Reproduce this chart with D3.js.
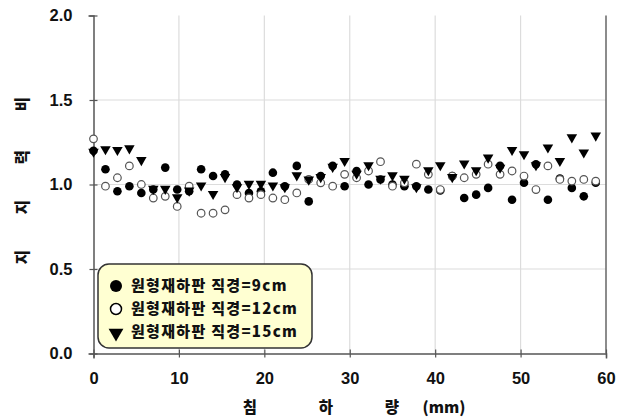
<!DOCTYPE html>
<html>
<head>
<meta charset="utf-8">
<script src="https://cdn.jsdelivr.net/npm/d3@7.9.0/dist/d3.min.js"></script>
<style>
  html, body { margin: 0; padding: 0; background: #fff; }
  svg { display: block; }
  text { font-family: "Liberation Sans", Arial, "Noto Sans CJK KR", sans-serif; font-weight: bold; fill: #111; }
  .kr { font-family: "Noto Sans CJK KR", sans-serif; font-weight: 900; }
</style>
</head>
<body>
<svg id="chart" width="624" height="418"></svg>
<script>
// ===== data =====
const settlement = [0, 1.4, 2.8, 4.2, 5.6, 7.0, 8.4, 9.8, 11.2, 12.6, 14.0, 15.4, 16.8, 18.2, 19.6,
  21.0, 22.4, 23.8, 25.2, 26.6, 28.0, 29.4, 30.8, 32.2, 33.6, 35.0, 36.4, 37.8, 39.2, 40.6,
  42.0, 43.4, 44.8, 46.2, 47.6, 49.0, 50.4, 51.8, 53.2, 54.6, 56.0, 57.4, 58.8];

const plate9 = [1.20, 1.09, 0.96, 0.99, 0.95, 0.97, 1.10, 0.97, 0.96, 1.09, 1.05, 1.06, 1.00, 0.95, 0.96,
  1.07, 0.99, 1.11, 0.90, 1.05, 1.11, 0.99, 1.08, 1.00, 1.03, 1.00, 0.99, 0.99, 0.97, 0.965,
  1.05, 0.92, 0.94, 0.98, 1.11, 0.91, 1.01, 1.12, 0.91, 1.035, 0.98, 0.93, 1.01];

const plate12 = [1.27, 0.99, 1.04, 1.11, 1.00, 0.92, 0.93, 0.87, 0.99, 0.83, 0.83, 0.85, 0.94, 0.92, 0.94,
  0.92, 0.91, 0.95, 1.03, 1.01, 0.99, 1.06, 1.04, 1.08, 1.135, 0.99, 1.01, 1.12, 1.06, 0.97,
  1.05, 1.04, 1.06, 1.12, 1.06, 1.08, 1.05, 0.97, 1.11, 1.03, 1.02, 1.03, 1.02];

const plate15 = [1.20, 1.215, 1.21, 1.22, 1.15, 0.98, 0.98, 0.93, 0.97, 1.00, 0.95, 1.05, 0.99, 1.01, 1.01,
  1.00, 0.99, 1.06, 1.035, 1.05, 1.11, 1.145, 1.07, 1.12, 1.04, 1.06, 1.04, 0.99, 1.09, 1.12,
  1.05, 1.13, 1.09, 1.165, 1.105, 1.21, 1.185, 1.12, 1.225, 1.145, 1.285, 1.195, 1.295];

const legendLabels = ["원형재하판 직경=9cm", "원형재하판 직경=12cm", "원형재하판 직경=15cm"];
const xTicks = [0, 10, 20, 30, 40, 50, 60];
const yTicks = [0.0, 0.5, 1.0, 1.5, 2.0];
const yTitleChars = ["지", "지", "력", "비"];
const xTitleParts = ["침", "하", "량", "(mm)"];

// ===== layout =====
const svg = d3.select("#chart");
const x = d3.scaleLinear().domain([0, 60]).range([93.5, 606]);
const y = d3.scaleLinear().domain([0, 2]).range([353.5, 15.5]);
const axisColor = "#555";

// grid
svg.append("g").selectAll("line.vg")
  .data(xTicks.filter(d => d > 0 && d < 60))
  .join("line")
  .attr("x1", d => x(d)).attr("x2", d => x(d))
  .attr("y1", y(2)).attr("y2", y(0))
  .attr("stroke", "#dcdcdc").attr("stroke-width", 1.2);

svg.append("g").selectAll("line.hg")
  .data(yTicks.filter(d => d > 0 && d < 2))
  .join("line")
  .attr("x1", x(0)).attr("x2", x(60))
  .attr("y1", d => y(d)).attr("y2", d => y(d))
  .attr("stroke", "#dcdcdc").attr("stroke-width", 1.2);

// right border
svg.append("line")
  .attr("x1", x(60)).attr("x2", x(60)).attr("y1", y(2)).attr("y2", y(0))
  .attr("stroke", "#666").attr("stroke-width", 1.5);

// axes
const xAxis = d3.axisBottom(x).tickValues(xTicks).tickFormat(d3.format("d")).tickSize(5).tickPadding(14);
const yAxis = d3.axisLeft(y).tickValues(yTicks).tickFormat(d3.format(".1f")).tickSize(5).tickPadding(16);

const gx = svg.append("g").attr("transform", `translate(0,${y(0)})`).call(xAxis);
const gy = svg.append("g").attr("transform", `translate(${x(0)},0)`).call(yAxis);

[gx, gy].forEach(g => {
  g.select(".domain").attr("stroke", axisColor).attr("stroke-width", 1.5);
  g.selectAll(".tick line").attr("stroke", axisColor).attr("stroke-width", 1.2);
  g.selectAll(".tick text").attr("font-size", 16.5).attr("fill", "#111")
    .attr("font-family", "'Liberation Sans', Arial, sans-serif").attr("font-weight", "bold");
});
// ticks cross the axis line
gx.selectAll(".tick line").attr("y1", -4).attr("y2", 4);
gy.selectAll(".tick line").attr("x1", -4).attr("x2", 4);
gy.selectAll(".tick text").attr("x", -21);

// axis titles
const yTitlePos = [257, 207, 157, 104];
svg.append("g").selectAll("text")
  .data(yTitleChars)
  .join("text")
  .attr("class", "kr")
  .attr("transform", (d, i) => `translate(23,${yTitlePos[i]}) rotate(-90)`)
  .attr("text-anchor", "middle").attr("dy", "0.35em")
  .attr("font-size", 15.5)
  .text(d => d);

const xTitlePos = [250, 326, 392, 444];
svg.append("g").selectAll("text")
  .data(xTitleParts)
  .join("text")
  .attr("class", "kr")
  .attr("x", (d, i) => xTitlePos[i]).attr("y", 408)
  .attr("text-anchor", "middle").attr("dy", "0.35em")
  .attr("font-size", 15.5)
  .text(d => d);

// legend
const lg = svg.append("g");
lg.append("rect")
  .attr("x", 98).attr("y", 264).attr("width", 214).attr("height", 84)
  .attr("rx", 11).attr("ry", 11)
  .attr("fill", "#ffffd2").attr("stroke", "#333").attr("stroke-width", 1.5);

const tri = d3.symbol().type(d3.symbolTriangle);
const rowY = [286, 309, 332];

lg.append("circle").attr("cx", 116).attr("cy", rowY[0]).attr("r", 6).attr("fill", "#000");
lg.append("circle").attr("cx", 116).attr("cy", rowY[1]).attr("r", 5.5)
  .attr("fill", "#fff").attr("stroke", "#000").attr("stroke-width", 1.5);
lg.append("path").attr("d", tri.size(95)())
  .attr("transform", `translate(116,${rowY[2] + 1}) rotate(180)`).attr("fill", "#000");

lg.selectAll("text.lab")
  .data(legendLabels)
  .join("text")
  .attr("class", "kr")
  .attr("x", 131).attr("y", (d, i) => rowY[i])
  .attr("dy", "0.36em")
  .attr("font-size", 15)
  .attr("letter-spacing", 1.3)
  .text(d => d);

// points
const pts = svg.append("g");
pts.selectAll("circle.s9")
  .data(plate9)
  .join("circle")
  .attr("cx", (d, i) => x(settlement[i])).attr("cy", d => y(d))
  .attr("r", 4.3).attr("fill", "#000");

pts.selectAll("circle.s12")
  .data(plate12)
  .join("circle")
  .attr("cx", (d, i) => x(settlement[i])).attr("cy", d => y(d))
  .attr("r", 3.8).attr("fill", "#fff").attr("stroke", "#555").attr("stroke-width", 1.2);

pts.selectAll("path.s15")
  .data(plate15)
  .join("path")
  .attr("d", tri.size(48)())
  .attr("transform", (d, i) => `translate(${x(settlement[i])},${y(d) + 1}) rotate(180)`)
  .attr("fill", "#000");
</script>
</body>
</html>
